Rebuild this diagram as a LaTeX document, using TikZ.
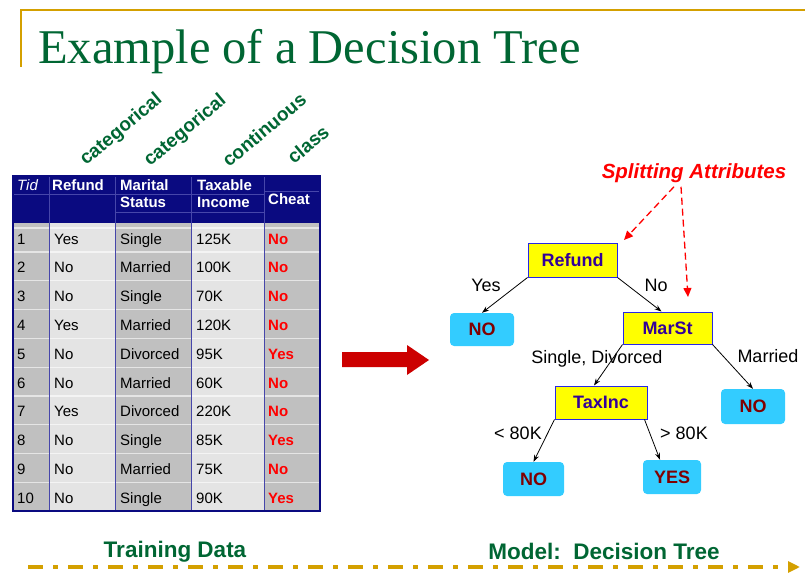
\documentclass[tikz,border=0pt]{standalone}
\usepackage{fontspec}
\setmainfont{Liberation Sans}
\newfontfamily\titlefont{Liberation Serif}
\usepackage{tikz}
\usetikzlibrary{arrows.meta,positioning,calc}
\definecolor{dtGreen} {RGB}{  0,102, 51}
\definecolor{dtGold}  {RGB}{212,160,  0}
\definecolor{dtNavy}  {RGB}{ 10, 10,128}
\definecolor{dtRule}  {RGB}{ 70, 70,170}
\definecolor{dtGreyD} {RGB}{192,192,192}
\definecolor{dtGreyL} {RGB}{228,228,228}
\definecolor{dtRed}   {RGB}{255,  0,  0}
\definecolor{dtArrow} {RGB}{204,  0,  0}
\definecolor{dtYellow}{RGB}{255,255,  0}
\definecolor{dtBorder}{RGB}{ 40, 40,230}
\definecolor{dtInk}   {RGB}{ 51,  0,153}
\definecolor{dtCyan}  {RGB}{ 51,204,255}
\definecolor{dtMaroon}{RGB}{128,  0,  0}
\newcommand\fsz[1]{\fontsize{#1}{#1}\selectfont}

\begin{document}
\begin{tikzpicture}[x=1pt,y=-1pt,
  every node/.style={inner sep=0pt},
  cell/.style={anchor=base west,font=\fsz{15}},
  head/.style={anchor=base west,font=\fsz{15}\bfseries,text=white},
  cls/.style={anchor=base west,font=\fsz{15}\bfseries,text=dtRed},
  kind/.style={anchor=base west,rotate=40,font=\fsz{19}\bfseries,text=dtGreen},
  attr/.style={draw=dtBorder,fill=dtYellow,line width=1pt,font=\fsz{18}\bfseries,text=dtInk},
  leaf/.style={fill=dtCyan,rounded corners=4pt,font=\fsz{18}\bfseries,text=dtMaroon},
  edge/.style={-{Stealth[length=7pt,width=5pt]},line width=0.8pt},
  elab/.style={font=\fsz{18}},
  hint/.style={draw=dtRed,line width=1.3pt,dash pattern=on 7pt off 4pt,-{Triangle[length=9pt,width=8pt]}},
  caption/.style={font=\fsz{22.5}\bfseries,text=dtGreen}
]
\useasboundingbox (0,0) rectangle (805,577);

% frame and title
\draw[dtGold,line width=2.5pt] (21,67) -- (21,10) -- (805,10);
\node[anchor=base west,font=\titlefont\fsz{48.5},text=dtGreen] (title) at (38,64) {Example of a Decision Tree};

% attribute kinds
\node[kind] (k1) at (86,166) {categorical};
\node[kind] (k2) at (150,167) {categorical};
\node[kind] (k3) at (229,168) {continuous};
\node[kind] (k4) at (294,165) {class};

% table
\fill[dtNavy] (13,176) rectangle (320,223);
\fill[dtGreyD] (13,223) rectangle (49,511);
\fill[dtGreyL] (49,223) rectangle (115,511);
\fill[dtGreyD] (115,223) rectangle (191,511);
\fill[dtGreyL] (191,223) rectangle (264,511);
\fill[dtGreyD] (264,223) rectangle (320,511);
\draw[white,opacity=.6,line width=1.2pt] (13,228) -- (320,228);
\foreach \k in {0,...,8}
  \draw[white,opacity=.6,line width=1.2pt] (13,{252+28.8*\k}) -- (320,{252+28.8*\k});
\draw[dtRule,line width=0.8pt] (13,194) -- (264,194);
\draw[dtRule,line width=0.8pt] (264,191) -- (320,191);
\draw[dtRule,line width=0.8pt] (115,212) -- (264,212);
\foreach \x in {49,115,191,264}
  \draw[dtRule,line width=1pt] (\x,176) -- (\x,511);
\draw[dtNavy,line width=1.2pt] (13,176) rectangle (320,511);

\node[head,font=\fsz{15}\itshape] (hTid) at (17,191) {Tid};
\node[head] (hRef)  at (52,191)  {Refund};
\node[head] (hMar)  at (120,191) {Marital};
\node[head] (hMar2) at (120,208) {Status};
\node[head] (hTax)  at (197,191) {Taxable};
\node[head] (hTax2) at (197,208) {Income};
\node[head] (hCh)   at (268,205) {Cheat};

\foreach \i/\rf/\ms/\ti/\ch in {1/Yes/Single/125K/No, 2/No/Married/100K/No,
    3/No/Single/70K/No, 4/Yes/Married/120K/No, 5/No/Divorced/95K/Yes,
    6/No/Married/60K/No, 7/Yes/Divorced/220K/No, 8/No/Single/85K/Yes,
    9/No/Married/75K/No, 10/No/Single/90K/Yes}{
  \pgfmathsetmacro\yb{244+28.8*(\i-1)}
  \node[cell] (tid\i) at (17,\yb)  {\i};
  \node[cell] (ref\i) at (54,\yb)  {\rf};
  \node[cell] (mar\i) at (120,\yb) {\ms};
  \node[cell] (tax\i) at (196,\yb) {\ti};
  \node[cls]  (che\i) at (268,\yb) {\ch};
}

% big arrow
\fill[dtArrow] (342,352) -- (407,352) -- (407,345) -- (429,360) -- (407,375)
  -- (407,367) -- (342,367) -- cycle;

% tree
\node[attr,minimum width=89pt,minimum height=33pt] (Refund) at (572.5,260.5) {Refund};
\node[attr,minimum width=89pt,minimum height=32pt] (MarSt)  at (667.5,328)   {MarSt};
\node[attr,minimum width=92pt,minimum height=33pt] (TaxInc) at (601,402.5)   {TaxInc};
\node[leaf,minimum width=64pt,minimum height=33pt] (noA) at (482,329.5) {NO};
\node[leaf,minimum width=64pt,minimum height=35pt] (noB) at (753,406.5) {NO};
\node[leaf,minimum width=61pt,minimum height=34pt] (noC) at (533.5,479) {NO};
\node[leaf,minimum width=58pt,minimum height=34pt] (yes) at (672,477)   {YES};

\draw[edge] (Refund.south west) -- (noA.north);
\draw[edge] (Refund.south east) -- ([xshift=-6pt]MarSt.north);
\draw[edge] (MarSt.south west) -- ([xshift=-7pt]TaxInc.north);
\draw[edge] (MarSt.south east) -- (noB.north);
\draw[edge] (TaxInc.south west) -- (noC.north);
\draw[edge] ([xshift=-3pt]TaxInc.south east) -- ([xshift=-12pt]yes.north);

\node[elab] (lYes) at (486,285) {Yes};
\node[elab] (lNo)  at (656,285) {No};
\node[elab] (lSD)  at (597,359) {Single, Divorced};
\node[elab] (lMar) at (768,356) {Married};
\node[elab] (lLo)  at (518,433) {\textless\ 80K};
\node[elab] (lHi)  at (684,433) {\textgreater\ 80K};

% splitting attributes
\node[font=\fsz{20.5}\bfseries\itshape,text=dtRed] (split) at (694,173) {Splitting Attributes};
\coordinate (tipR) at (624,240);
\coordinate (tipM) at (688,297);
\draw[hint] ([xshift=-20pt,yshift=-4pt]split.south) -- (tipR);
\draw[hint] ([xshift=-13pt,yshift=-4pt]split.south) -- (tipM);

% captions
\node[caption] (train) at (175,552) {Training Data};
\node[caption] (model) at (604,551) {Model:\ \ Decision Tree};
\coordinate (flowA) at (28,567);
\coordinate (flowB) at (800,567);
\draw[dtGold,line width=3.5pt,dash pattern=on 15pt off 10pt on 5pt off 10pt,
  -{Triangle[length=12pt,width=11pt]}] (flowA) -- (flowB);
\end{tikzpicture}
\end{document}
